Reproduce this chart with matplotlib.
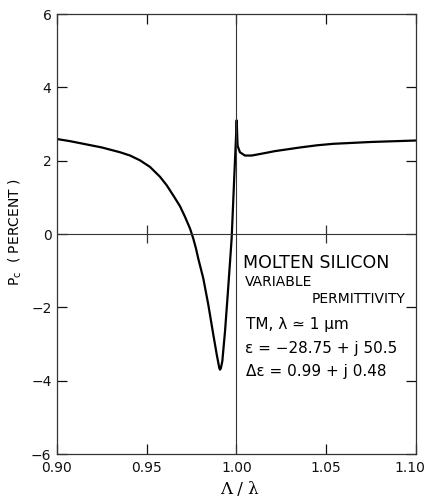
import matplotlib
matplotlib.use("Agg")
import matplotlib.pyplot as plt
import matplotlib.transforms as mtransforms

# power change P_c vs normalized grating period
ratio = [0.900, 0.9075, 0.9147, 0.925, 0.9351, 0.9407, 0.9462, 0.9518,
         0.9574, 0.9611, 0.9648, 0.9685, 0.9713, 0.9741, 0.9759, 0.9774,
         0.9787, 0.9815, 0.9843, 0.9871, 0.9890, 0.9904, 0.9908, 0.9913,
         0.9921, 0.9936, 0.9951, 0.9964, 0.9973, 0.9988, 0.9997, 1.0001,
         1.0006, 1.0019, 1.0047, 1.0085, 1.0140, 1.0214, 1.0270, 1.0354,
         1.0450, 1.0540, 1.0750, 1.1000]
p_c = [2.59, 2.53, 2.46, 2.36, 2.23, 2.14, 2.01, 1.83,
       1.56, 1.33, 1.05, 0.76, 0.47, 0.15, -0.12, -0.39,
       -0.67, -1.21, -1.93, -2.75, -3.29, -3.65, -3.70, -3.66,
       -3.47, -2.66, -1.66, -0.76, -0.12, 1.60, 2.60, 3.10,
       2.41, 2.23, 2.14, 2.14, 2.19, 2.26, 2.30, 2.36,
       2.42, 2.46, 2.51, 2.55]

x_ticks = [0.90, 0.95, 1.00, 1.05, 1.10]
x_labels = ["0.90", "0.95", "1.00", "1.05", "1.10"]
y_ticks = [-6, -4, -2, 0, 2, 4, 6]
mid_ticks = [0.95, 1.05]

fig = plt.figure(figsize=(4.26, 5), dpi=100)
ax = fig.add_axes([0.1338, 0.092, 0.8427, 0.88])

ax.plot(ratio, p_c, color="black", lw=1.6, solid_joinstyle="round")
ax.axhline(0, color="#333333", lw=0.8)
ax.axvline(1.0, color="#333333", lw=0.8)
# small cross ticks on the zero line
ax.plot(mid_ticks, [0, 0], ls="none", marker="|", ms=13, mew=0.9, color="#333333")

ax.set_xlim(0.90, 1.10)
ax.set_ylim(-6, 6)
ax.set_xticks(x_ticks)
ax.set_xticklabels(x_labels)
ax.set_yticks(y_ticks)
ax.set_yticklabels([str(v).replace("-", "\u2212") for v in y_ticks])
ax.tick_params(direction="in", top=True, right=True, length=7, width=0.9,
               labelsize=10, colors="#111111", pad=4)
ax.tick_params(axis="x", pad=5)
for s in ax.spines.values():
    s.set_linewidth(0.9)
    s.set_color("#333333")

# keep the last x label inside the figure
last = ax.get_xticklabels()[-1]
last.set_transform(last.get_transform() +
                   mtransforms.ScaledTranslation(-6 / 100, 0, fig.dpi_scale_trans))

fig.text(0.035, 0.536, "P$_\\mathregular{c}$  ( PERCENT )", rotation=90,
         ha="center", va="center", fontsize=10)
fig.text(0.563, 0.02, "\u039b / \u03bb", ha="center", va="center", fontsize=12,
         family="DejaVu Serif")

ax.text(1.0036, -0.8, "MOLTEN SILICON", fontsize=12.5, va="center")
ax.text(1.0045, -1.3, "VARIABLE", fontsize=10, va="center")
ax.text(1.094, -1.77, "PERMITTIVITY", fontsize=10, va="center", ha="right")
ax.text(1.0055, -2.46, "TM, \u03bb \u2243 1 \u03bcm", fontsize=11, va="center")
ax.text(1.0050, -3.11, "\u03b5 = \u221228.75 + j 50.5", fontsize=11, va="center")
ax.text(1.0055, -3.76, "\u0394\u03b5 = 0.99 + j 0.48", fontsize=11, va="center")

fig.savefig("out.png", dpi=100)
